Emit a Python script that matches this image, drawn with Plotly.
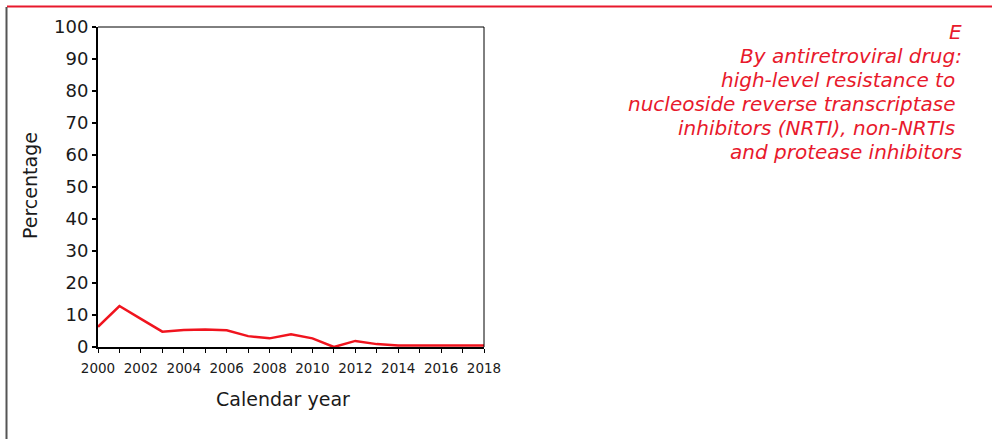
import plotly.graph_objects as go

years = list(range(2000, 2019))
percentage = [6.3, 12.8, 8.8, 4.8, 5.3, 5.5, 5.2, 3.4, 2.7, 4.0, 2.7, 0.0, 1.9, 0.9, 0.5, 0.5, 0.5, 0.5, 0.5]
x_tick_vals = list(range(2000, 2019))
x_tick_text = [str(y) if y % 2 == 0 else "" for y in x_tick_vals]
y_tick_vals = list(range(0, 101, 10))

title_lines = [
    "E",
    "By antiretroviral drug:",
    "high-level resistance to\u00a0",
    "nucleoside reverse transcriptase\u00a0",
    "inhibitors (NRTI), non-NRTIs\u00a0",
    "and protease inhibitors",
]
x_title = "Calendar year"
y_title = "Percentage"

RED = "#e8192c"
W, H = 992, 439
L, R, T, B = 98, 484, 27, 347

def px(x):
    return (x - L) / (R - L)

def py(y):
    return (B - y) / (B - T)

fig = go.Figure()
fig.add_trace(go.Scatter(
    x=years, y=percentage, mode="lines",
    line=dict(color="#f0141e", width=2.5),
    showlegend=False,
))

font = "DejaVu Sans, Verdana, sans-serif"
fig.update_layout(
    width=W, height=H,
    margin=dict(l=L, r=W - R, t=T, b=H - B),
    paper_bgcolor="white", plot_bgcolor="white",
    font=dict(family=font, color="#1a1a1a"),
    xaxis=dict(
        range=[2000, 2018], tickvals=x_tick_vals, ticktext=x_tick_text,
        ticks="outside", ticklen=4, tickwidth=1, tickcolor="#000",
        showline=True, linecolor="#000", linewidth=2, showgrid=False, zeroline=False,
        tickfont=dict(size=13.5, color="#1a1a1a"), ticklabelstandoff=4,
    ),
    yaxis=dict(
        range=[0, 100], tickvals=y_tick_vals,
        ticks="outside", ticklen=4, tickwidth=1.5, tickcolor="#000",
        showline=True, linecolor="#000", linewidth=2, showgrid=False, zeroline=False,
        tickfont=dict(size=18, color="#1a1a1a"),
    ),
)

# plot box top and right borders
fig.add_shape(type="line", xref="paper", yref="paper", x0=0, x1=1, y0=1, y1=1,
              line=dict(color="#000", width=1))
fig.add_shape(type="line", xref="paper", yref="paper", x0=1, x1=1, y0=0, y1=1,
              line=dict(color="#000", width=1))
# outer page decorations
fig.add_shape(type="line", xref="paper", yref="paper", x0=px(7), x1=px(992), y0=py(6.5), y1=py(6.5),
              line=dict(color=RED, width=2))
fig.add_shape(type="line", xref="paper", yref="paper", x0=px(6.5), x1=px(6.5), y0=py(7), y1=py(439),
              line=dict(color="#555", width=2))

# axis titles
fig.add_annotation(xref="paper", yref="paper", x=px(283), y=py(399), xanchor="center", yanchor="middle",
                   showarrow=False, text=x_title, font=dict(family=font, size=19, color="#1a1a1a"))
fig.add_annotation(xref="paper", yref="paper", x=px(30), y=py(186), xanchor="center", yanchor="middle",
                   textangle=-90, showarrow=False, text=y_title,
                   font=dict(family=font, size=19, color="#1a1a1a"))

# right-side caption, one annotation per line
for i, t in enumerate(title_lines):
    fig.add_annotation(
        xref="paper", yref="paper", x=px(964), y=py(32 + 24 * i), xanchor="right", yanchor="middle",
        align="right", showarrow=False, text="<i>%s</i>" % t,
        font=dict(family=font, size=20, color=RED),
    )

fig.write_html("out.html", config={"displayModeBar": False},
               post_script="document.body.style.margin='0';")
